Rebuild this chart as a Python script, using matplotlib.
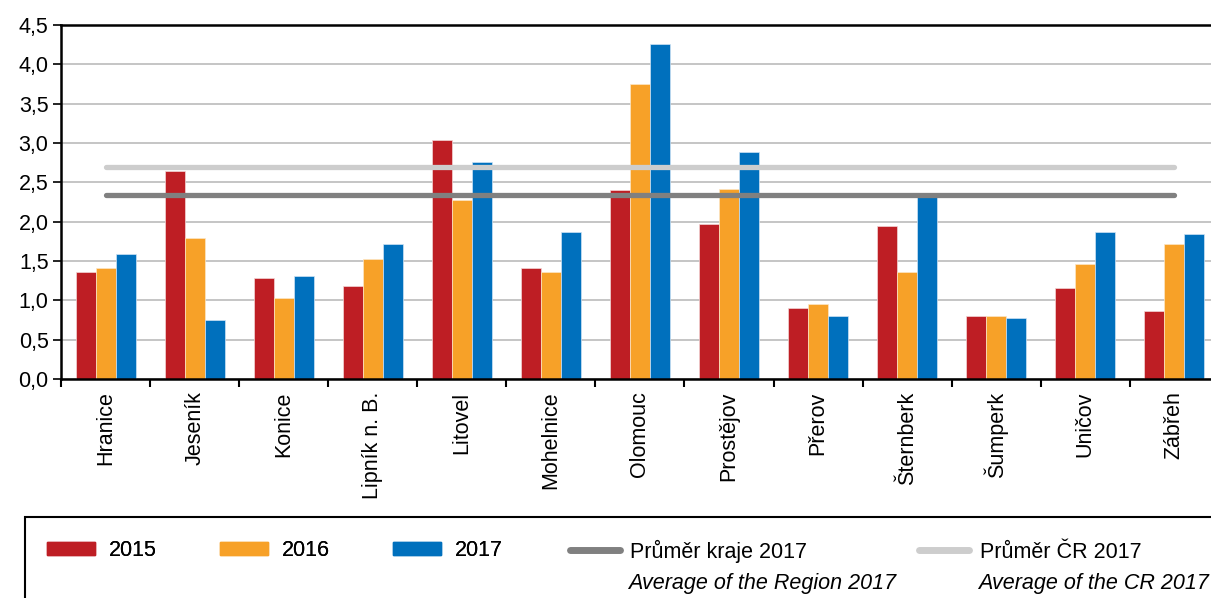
import numpy as np
import matplotlib
matplotlib.use("Agg")
import matplotlib.pyplot as plt
from matplotlib.patches import Rectangle, Patch
from matplotlib.lines import Line2D

plt.rcParams['font.family'] = ['Liberation Sans', 'DejaVu Sans']

# data
mesta = ["Hranice", "Jeseník", "Konice", "Lipník n. B.", "Litovel", "Mohelnice",
         "Olomouc", "Prostějov", "Přerov", "Šternberk", "Šumperk", "Uničov", "Zábřeh"]
r2015 = [1.36, 2.65, 1.29, 1.18, 3.04, 1.41, 2.40, 1.97, 0.90, 1.94, 0.80, 1.16, 0.87]
r2016 = [1.41, 1.79, 1.03, 1.52, 2.28, 1.36, 3.75, 2.42, 0.95, 1.36, 0.80, 1.46, 1.71]
r2017 = [1.59, 0.75, 1.31, 1.71, 2.76, 1.87, 4.26, 2.88, 0.80, 2.31, 0.78, 1.87, 1.84]
prumer_kraj = 2.34
prumer_cr = 2.70

y_ticks = [0.0, 0.5, 1.0, 1.5, 2.0, 2.5, 3.0, 3.5, 4.0, 4.5]
y_labels = ["0,0", "0,5", "1,0", "1,5", "2,0", "2,5", "3,0", "3,5", "4,0", "4,5"]

C_RED = "#BE1E24"
C_ORA = "#F7A128"
C_BLU = "#0070BD"
C_DARK = "#808080"
C_LIGHT = "#CDCDCD"
FS = 15.5

fig = plt.figure(figsize=(12.11, 5.98), dpi=100)
ax = fig.add_axes([0.0504, 0.3662, 0.9561, 0.592])

x = np.arange(len(mesta))
w = 0.225
ax.bar(x - w, r2015, w, color=C_RED, edgecolor="#F3D6D6", linewidth=0.5, zorder=2)
ax.bar(x, r2016, w, color=C_ORA, edgecolor="#FCE6C6", linewidth=0.5, zorder=2)
ax.bar(x + w, r2017, w, color=C_BLU, edgecolor="#CFE3F4", linewidth=0.5, zorder=2)

ax.plot([x[0], x[-1]], [prumer_cr, prumer_cr], color=C_LIGHT, lw=3.8,
        solid_capstyle="round", zorder=3)
ax.plot([x[0], x[-1]], [prumer_kraj, prumer_kraj], color=C_DARK, lw=3.8,
        solid_capstyle="round", zorder=3)

ax.set_xlim(-0.5, len(mesta) - 0.5)
ax.set_ylim(0, 4.5)
ax.set_yticks(y_ticks)
ax.set_yticklabels(y_labels, fontsize=FS)
ax.yaxis.grid(True, color="#C0C0C0", lw=1.3, zorder=0)
ax.set_axisbelow(True)

ax.set_xticks(x)
ax.set_xticklabels(mesta, rotation=90, fontsize=FS)
ax.set_xticks(np.arange(-0.5, len(mesta), 1.0), minor=True)
ax.tick_params(axis="x", which="major", length=0, pad=9)
ax.tick_params(axis="x", which="minor", length=6, width=1.5, direction="out")
ax.tick_params(axis="y", length=6, width=1.2, direction="out", pad=3)

for s in ["left", "bottom", "top"]:
    ax.spines[s].set_linewidth(1.8)
    ax.spines[s].set_color("black")
ax.spines["right"].set_visible(False)

# legend frame
fig.add_artist(Rectangle((25 / 1211, -0.1), 1.2, 1 - 517 / 598 + 0.1,
                         transform=fig.transFigure, fill=False,
                         edgecolor="black", lw=1.5))

h_bars = [Patch(color=C_RED), Patch(color=C_ORA), Patch(color=C_BLU)]
leg1 = fig.legend(h_bars, ["2015", "2016", "2017"], ncol=3, frameon=False,
                  fontsize=FS, handlelength=2.23, handleheight=0.56,
                  handletextpad=0.65, columnspacing=2.93,
                  loc="center left", bbox_to_anchor=(47 / 1211, 1 - 551 / 598),
                  borderaxespad=0, borderpad=0)

h_lines = [Line2D([], [], color=C_DARK, lw=5, solid_capstyle="round"),
           Line2D([], [], color=C_LIGHT, lw=5, solid_capstyle="round")]
leg2 = fig.legend(h_lines, ["Průměr kraje 2017", "Průměr ČR 2017"], ncol=2,
                  frameon=False, fontsize=FS, handlelength=2.3,
                  handletextpad=0.5, columnspacing=5.2,
                  loc="center left", bbox_to_anchor=(570 / 1211, 1 - 551 / 598),
                  borderaxespad=0, borderpad=0)
fig.add_artist(leg1)

fig.text(628 / 1211, 1 - 583 / 598, "Average of the Region 2017", fontsize=FS,
         style="italic", va="center")
fig.text(978 / 1211, 1 - 583 / 598, "Average of the CR 2017", fontsize=FS,
         style="italic", va="center")

fig.savefig("out.png", dpi=100)
